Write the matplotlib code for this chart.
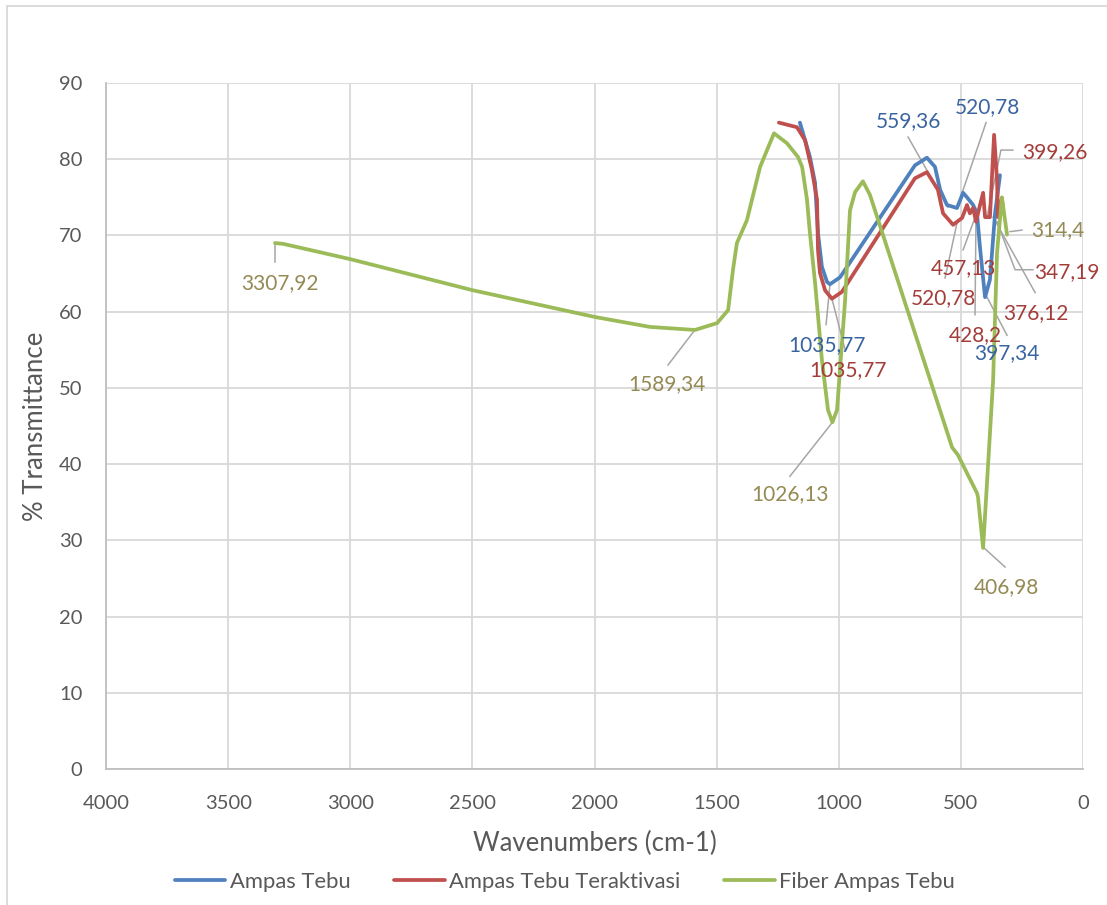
import matplotlib
matplotlib.use("Agg")
import matplotlib.pyplot as plt
from matplotlib.patches import Rectangle

plt.rcParams['font.family'] = ['Lato', 'DejaVu Sans']

# series (wavenumber, % transmittance)
ampas_w = [1159, 1118, 1097, 1085, 1069, 1048, 1036, 995, 688, 639, 606, 585,
           557, 516, 491, 475, 450, 434, 422, 401, 381, 360, 340]
ampas_t = [84.8, 80.3, 76.9, 70.3, 65.9, 63.9, 63.6, 64.5, 79.2, 80.2, 79.0, 76.0,
           74.0, 73.6, 75.6, 75.0, 74.0, 72.9, 68.5, 61.9, 64.2, 72.9, 77.9]

aktif_w = [1245, 1171, 1138, 1110, 1089, 1085, 1077, 1056, 1028, 987, 688, 639,
           594, 573, 532, 495, 475, 463, 450, 438, 430, 409, 401, 381, 364, 352,
           348, 332, 327]
aktif_t = [84.8, 84.2, 82.5, 78.6, 74.7, 68.1, 65.1, 62.8, 61.7, 62.6, 77.5, 78.3,
           76.0, 72.9, 71.4, 72.3, 74.0, 72.9, 73.6, 71.8, 72.9, 75.6, 72.4, 72.4,
           83.2, 77.3, 72.4, 74.9, 72.9]

fiber_w = [3308, 3275, 3001, 2497, 1998, 1773, 1589, 1498, 1453, 1433, 1417,
           1376, 1322, 1265, 1212, 1167, 1150, 1130, 1118, 1097, 1069, 1044,
           1026, 1007, 974, 954, 933, 901, 872, 536, 512, 434, 430, 409, 368,
           352, 332, 311]
fiber_t = [69.0, 68.9, 66.9, 62.8, 59.3, 58.0, 57.6, 58.5, 60.2, 65.5, 69.0,
           72.0, 79.0, 83.4, 82.1, 80.3, 79.0, 74.7, 70.3, 63.8, 53.7, 47.1,
           45.5, 47.1, 61.5, 73.3, 75.7, 77.1, 75.3, 42.2, 41.2, 36.2, 35.7,
           29.0, 51.0, 67.7, 75.0, 70.1]

series_names = ['Ampas Tebu', 'Ampas Tebu Teraktivasi', 'Fiber Ampas Tebu']
line_colors = ['#4F81BD', '#C0504D', '#9BBB59']
label_colors = ['#3A64A0', '#A33D3A', '#948A54']

# data labels: text, series index, text centre, leader line path
labels = [
    ('559,36', 0, (716, 85.0), [(716, 82.9), (553, 73.7)]),
    ('520,78', 0, (393, 86.9), [(397, 84.8), (516, 73.6)]),
    ('399,26', 1, (115, 80.9), [(287, 81.2), (336, 81.2), (393, 72.4)]),
    ('314,4', 2, (102, 70.7), [(250, 70.7), (299, 70.5)]),
    ('347,19', 1, (66, 65.2), [(205, 65.5), (278, 65.5), (352, 71.8)]),
    ('376,12', 1, (192, 59.8), [(196, 62.5), (368, 72.4)]),
    ('457,13', 1, (491, 65.7), [(491, 68.1), (446, 72.0)]),
    ('520,78', 1, (573, 61.8), [(565, 64.4), (516, 71.6)]),
    ('428,2', 1, (442, 56.9), [(442, 59.6), (438, 72.9)]),
    ('397,34', 0, (311, 54.6), [(311, 56.9), (393, 61.9)]),
    ('1035,77', 0, (1048, 55.6), [(1052, 58.3), (1036, 63.5)]),
    ('1035,77', 1, (962, 52.3), [(974, 55.0), (1028, 61.7)]),
    ('3307,92', 2, (3288, 63.8), [(3308, 66.5), (3308, 69.0)]),
    ('1589,34', 2, (1703, 50.5), [(1699, 53.0), (1589, 57.6)]),
    ('1026,13', 2, (1200, 36.1), [(1200, 38.4), (1028, 45.4)]),
    ('406,98', 2, (315, 23.9), [(319, 26.5), (405, 29.0)]),
]

fig = plt.figure(figsize=(11.07, 9.05), dpi=100)
fig.patches.append(Rectangle((7 / 1107, -0.1), 1.2, 1.1 - 6 / 905, transform=fig.transFigure,
                             fill=False, edgecolor='#D9D9D9', linewidth=1.3))
ax = fig.add_axes([106 / 1107, 1 - 769 / 905, 977 / 1107, 686 / 905])

for w, t, name, c in zip([ampas_w, aktif_w, fiber_w], [ampas_t, aktif_t, fiber_t],
                         series_names, line_colors):
    ax.plot(w, t, color=c, lw=2.7, label=name, solid_joinstyle='round',
            solid_capstyle='round', zorder=3)

for text, si, pos, path in labels:
    xs = [p[0] for p in path]
    ys = [p[1] for p in path]
    ax.plot(xs, ys, color='#A6A6A6', lw=1.1, zorder=2)
    ax.text(pos[0], pos[1], text, color=label_colors[si], fontsize=15,
            ha='center', va='center', zorder=4)

ax.set_xlim(4000, 0)
ax.set_ylim(0, 90)
ax.set_xticks(range(4000, -1, -500))
ax.set_yticks(range(0, 91, 10))
ax.grid(True, color='#D9D9D9', lw=1.3)
ax.set_axisbelow(True)
for s in ['top', 'right']:
    ax.spines[s].set_visible(False)
for s in ['left', 'bottom']:
    ax.spines[s].set_color('#BFBFBF')
    ax.spines[s].set_linewidth(1.3)
ax.tick_params(length=0, labelsize=14.5, labelcolor='#595959')
ax.tick_params(axis='x', pad=19)
ax.tick_params(axis='y', pad=17)
ax.set_xlabel('Wavenumbers (cm-1)', fontsize=18.5, color='#595959', labelpad=13)
ax.set_ylabel('% Transmittance', fontsize=18.5, color='#595959', labelpad=8)

fig.legend(loc='center', bbox_to_anchor=(565 / 1107, 1 - 882 / 905), ncol=3,
           frameon=False, fontsize=15.8, handlelength=2.3, handletextpad=0.2,
           columnspacing=2.0, labelcolor='#595959')

fig.savefig('out.png', dpi=100)
